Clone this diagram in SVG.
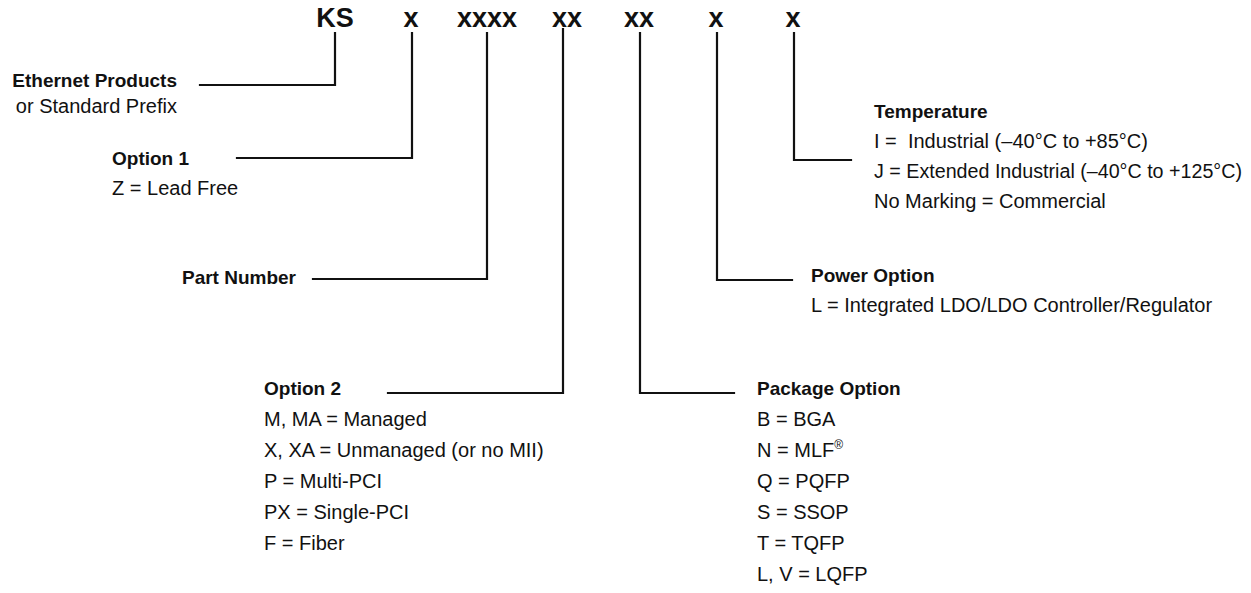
<svg xmlns="http://www.w3.org/2000/svg" width="1251" height="593" viewBox="0 0 1251 593">
<style>
text{font-family:"Liberation Sans",Arial,sans-serif;fill:#111}
.h{font-size:27px;font-weight:bold}
.b{font-size:19px;font-weight:bold}
.r{font-size:20px}
.c{fill:none;stroke:#111;stroke-width:2.2;stroke-linecap:square}
</style>
<rect width="1251" height="593" fill="#fff"/>
<g id="code">
<text class="h" x="335" y="27" text-anchor="middle">KS</text>
<text class="h" x="411" y="27" text-anchor="middle">x</text>
<text class="h" x="487" y="27" text-anchor="middle">xxxx</text>
<text class="h" x="567" y="27" text-anchor="middle">xx</text>
<text class="h" x="639" y="27" text-anchor="middle">xx</text>
<text class="h" x="716" y="27" text-anchor="middle">x</text>
<text class="h" x="793" y="27" text-anchor="middle">x</text>
</g>
<g id="connectors">
<path class="c" d="M335,33 V85 H200"/>
<path class="c" d="M412,33 V158 H237"/>
<path class="c" d="M487,33 V279 H313"/>
<path class="c" d="M563,29 V393 H388"/>
<path class="c" d="M640,33 V393 H734"/>
<path class="c" d="M717,33 V280 H792"/>
<path class="c" d="M794,33 V160 H851"/>
</g>
<g id="prefix">
<text class="b" x="177" y="87" text-anchor="end">Ethernet Products</text>
<text class="r" x="177" y="113" text-anchor="end">or Standard Prefix</text>
</g>
<g id="option1">
<text class="b" x="112" y="165">Option 1</text>
<text class="r" x="112" y="195">Z = Lead Free</text>
</g>
<g id="partnumber">
<text class="b" x="296" y="284" text-anchor="end">Part Number</text>
</g>
<g id="option2">
<text class="b" x="264" y="395">Option 2</text>
<text class="r" x="264" y="426">M, MA = Managed</text>
<text class="r" x="264" y="457">X, XA = Unmanaged (or no MII)</text>
<text class="r" x="264" y="488">P = Multi-PCI</text>
<text class="r" x="264" y="519">PX = Single-PCI</text>
<text class="r" x="264" y="550">F = Fiber</text>
</g>
<g id="package">
<text class="b" x="757" y="395">Package Option</text>
<text class="r" x="757" y="426">B = BGA</text>
<text class="r" x="757" y="457">N = MLF<tspan font-size="12" dy="-8">®</tspan></text>
<text class="r" x="757" y="488">Q = PQFP</text>
<text class="r" x="757" y="519">S = SSOP</text>
<text class="r" x="757" y="550">T = TQFP</text>
<text class="r" x="757" y="581">L, V = LQFP</text>
</g>
<g id="power">
<text class="b" x="811" y="282">Power Option</text>
<text class="r" x="811" y="312">L = Integrated LDO/LDO Controller/Regulator</text>
</g>
<g id="temperature">
<text class="b" x="874" y="118">Temperature</text>
<text class="r" x="874" y="148">I =&#160; Industrial (–40°C to +85°C)</text>
<text class="r" x="874" y="178" textLength="368" lengthAdjust="spacingAndGlyphs">J = Extended Industrial (–40°C to +125°C)</text>
<text class="r" x="874" y="208">No Marking = Commercial</text>
</g>
</svg>
